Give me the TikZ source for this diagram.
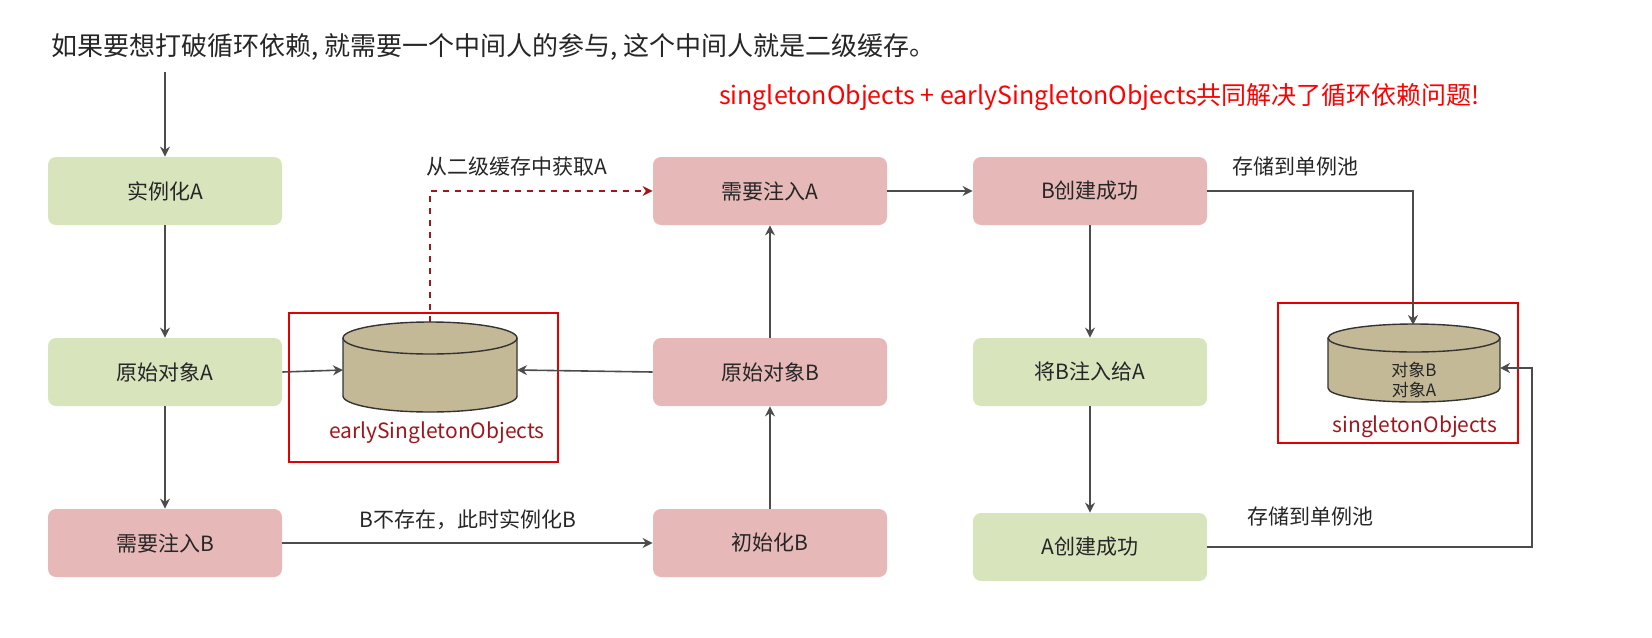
\documentclass[tikz,border=0pt]{standalone}
\usepackage{fontspec}
\setmainfont{Noto Sans CJK SC}
\usetikzlibrary{arrows.meta}
\definecolor{gfill}{HTML}{D8E4BC}
\definecolor{pfill}{HTML}{E6B9B8}
\definecolor{cyl}{HTML}{C4B996}
\definecolor{dred}{HTML}{A0161C}
\begin{document}
\begin{tikzpicture}[x=0.5pt,y=-0.5pt,
  box/.style={rounded corners=4pt,minimum width=117pt,minimum height=34pt,font=\fontsize{10.5}{12}\selectfont,text=black!85},
  gbox/.style={box,fill=gfill},
  pbox/.style={box,fill=pfill},
  arr/.style={draw=black!70,line width=0.8pt,-{Stealth[length=5pt,width=5pt]}},
  lab/.style={font=\fontsize{10.5}{12}\selectfont,text=black!85},
  cylsty/.style={draw=black!80,fill=cyl,line width=0.7pt},
  redframe/.style={draw=red!90!black,line width=1.2pt}]
\useasboundingbox (0,0) rectangle (1652,637);
\node[anchor=west,font=\fontsize{13}{15}\selectfont,text=black!85] (title) at (44,47) {如果要想打破循环依赖, 就需要一个中间人的参与, 这个中间人就是二级缓存。};
\node[anchor=east,font=\fontsize{12.5}{14}\selectfont,text=red] (note) at (1487,97) {singletonObjects + earlySingletonObjects共同解决了循环依赖问题!};
\node[gbox] (a1) at (165,191) {实例化A};
\node[gbox] (a2) at (165,372) {原始对象A};
\node[pbox] (a3) at (165,543) {需要注入B};
\node[pbox] (b3) at (770,191) {需要注入A};
\node[pbox] (b2) at (770,372) {原始对象B};
\node[pbox] (b1) at (770,543) {初始化B};
\node[pbox] (c1) at (1090,191) {B创建成功};
\node[gbox] (c2) at (1090,372) {将B注入给A};
\node[gbox] (c3) at (1090,547) {A创建成功};
% cylinder 1
\draw[redframe] (289,313) rectangle (558,462);
\draw[cylsty] (343,338) -- (343,396) arc[start angle=180,end angle=0,x radius=87,y radius=16] -- (517,338);
\draw[cylsty] (430,338) ellipse[x radius=87,y radius=16];
\coordinate (ew) at (343,370);
\coordinate (ee) at (517,370);
\coordinate (et) at (430,322);
\node[font=\fontsize{10.5}{12}\selectfont,text=dred] (el) at (437,433) {earlySingletonObjects};
% cylinder 2
\draw[redframe] (1278,303) rectangle (1518,443);
\draw[cylsty] (1328,338) -- (1328,388) arc[start angle=180,end angle=0,x radius=86,y radius=14] -- (1500,338);
\draw[cylsty] (1414,338) ellipse[x radius=86,y radius=14];
\node[align=center,font=\fontsize{8.5}{10}\selectfont,text=black!85] (sc) at (1414,380) {对象B\\对象A};
\coordinate (st) at (1413,325);
\coordinate (se) at (1500,368);
\node[font=\fontsize{10.5}{12}\selectfont,text=dred] (sl) at (1415,427) {singletonObjects};
\coordinate (t0) at (165,72);
\draw[arr] (t0) -- (a1);
\draw[arr] (a1) -- (a2);
\draw[arr] (a2) -- (a3);
\draw[arr] (a2.east) -- (ew);
\draw[arr] (b2.west) -- (ee);
\draw[dred,line width=1pt,dashed,-{Stealth[length=5pt,width=5pt]}] (et) |- (b3.west);
\node[lab] (l1) at (517,167) {从二级缓存中获取A};
\draw[arr] (a3) -- (b1) node[lab,midway,above=3pt] (l2) {B不存在，此时实例化B};
\draw[arr] (b1) -- (b2);
\draw[arr] (b2) -- (b3);
\draw[arr] (b3) -- (c1);
\draw[arr] (c1) -- (c2);
\draw[arr] (c2) -- (c3);
\coordinate (k1) at (1413,191);
\draw[arr] (c1.east) -- (k1) -- (st);
\node[lab] (l3) at (1295,167) {存储到单例池};
\coordinate (k2) at (1532,547);
\coordinate (k3) at (1532,368);
\draw[arr] (c3.east) -- (k2) -- (k3) -- (se);
\node[lab] (l4) at (1310,516) {存储到单例池};
\end{tikzpicture}
\end{document}
